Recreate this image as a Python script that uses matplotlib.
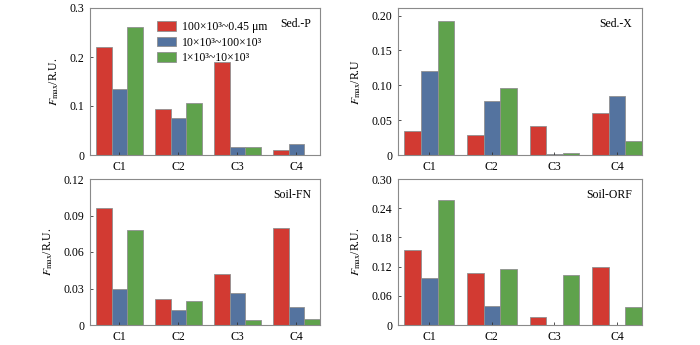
import numpy as np
from matplotlib import pyplot as plt

components = ["C1", "C2", "C3", "C4"]
size_labels = ["100×10³~0.45 μm", "10×10³~100×10³", "1×10³~10×10³"]

sed_p_large = [0.221, 0.094, 0.190, 0.011]
sed_p_mid = [0.134, 0.075, 0.016, 0.022]
sed_p_small = [0.262, 0.106, 0.017, 0.001]

sed_x_large = [0.034, 0.028, 0.042, 0.060]
sed_x_mid = [0.120, 0.077, 0.0014, 0.084]
sed_x_small = [0.193, 0.096, 0.0024, 0.020]

soil_fn_large = [0.096, 0.021, 0.042, 0.080]
soil_fn_mid = [0.030, 0.012, 0.026, 0.015]
soil_fn_small = [0.078, 0.020, 0.004, 0.005]

soil_orf_large = [0.155, 0.106, 0.016, 0.119]
soil_orf_mid = [0.096, 0.040, 0.001, 0.001]
soil_orf_small = [0.257, 0.115, 0.102, 0.038]

plt.rcParams["font.family"] = ["Liberation Serif", "DejaVu Serif"]
plt.rcParams["mathtext.fontset"] = "stix"

colors = ["#d23a32", "#54739f", "#5fa24c"]
panels = [
    ("Sed.-P", [sed_p_large, sed_p_mid, sed_p_small], 0.3, [0, 0.1, 0.2, 0.3], ["0", "0.1", "0.2", "0.3"],
     r"$F_{\mathrm{max}}$/R.U.", [90, 8, 320, 155]),
    ("Sed.-X", [sed_x_large, sed_x_mid, sed_x_small], 0.211, [0, 0.05, 0.10, 0.15, 0.20],
     ["0", "0.05", "0.10", "0.15", "0.20"], r"$F_{\mathrm{max}}$/R.U", [398, 8, 642, 155]),
    ("Soil-FN", [soil_fn_large, soil_fn_mid, soil_fn_small], 0.12, [0, 0.03, 0.06, 0.09, 0.12],
     ["0", "0.03", "0.06", "0.09", "0.12"], r"$F_{\mathrm{max}}$/R.U.", [90, 179, 320, 325]),
    ("Soil-ORF", [soil_orf_large, soil_orf_mid, soil_orf_small], 0.30, [0, 0.06, 0.12, 0.18, 0.24, 0.30],
     ["0", "0.06", "0.12", "0.18", "0.24", "0.30"], r"$F_{\mathrm{max}}$/R.U.", [398, 179, 642, 325]),
]

W, H = 700, 345
fig = plt.figure(figsize=(7, 3.45), dpi=100)
x = np.arange(len(components))
width = 0.265

for name, series, ymax, yticks, ytick_labels, ylabel, (l, t, r, b) in panels:
    ax = fig.add_axes([l / W, 1 - b / H, (r - l) / W, (b - t) / H])
    for i, values in enumerate(series):
        ax.bar(x + (i - 1) * width, values, width, color=colors[i], edgecolor="#909090",
               linewidth=0.6, label=size_labels[i])
    ax.set_xlim(-0.5, 3.4)
    ax.set_ylim(0, ymax)
    ax.set_xticks(x)
    ax.set_xticklabels(components)
    ax.set_yticks(yticks)
    ax.set_yticklabels(ytick_labels)
    ax.tick_params(direction="in", length=2.5, width=0.6, labelsize=8.5, colors="#333333",
                   labelcolor="black", pad=4)
    for spine in ax.spines.values():
        spine.set_color("#8a8a8a")
        spine.set_linewidth(0.8)
    ax.set_ylabel(ylabel, fontsize=8.5, labelpad=6)
    ax.text(0.96, 0.93, name, transform=ax.transAxes, ha="right", va="top", fontsize=8.5)
    if name == "Sed.-P":
        ax.legend(loc="upper left", bbox_to_anchor=(0.26, 0.96), frameon=False, fontsize=8.5,
                  handlelength=1.6, handleheight=0.9, handletextpad=0.5, labelspacing=0.3,
                  borderaxespad=0.2)

fig.savefig("out.png", dpi=100)
